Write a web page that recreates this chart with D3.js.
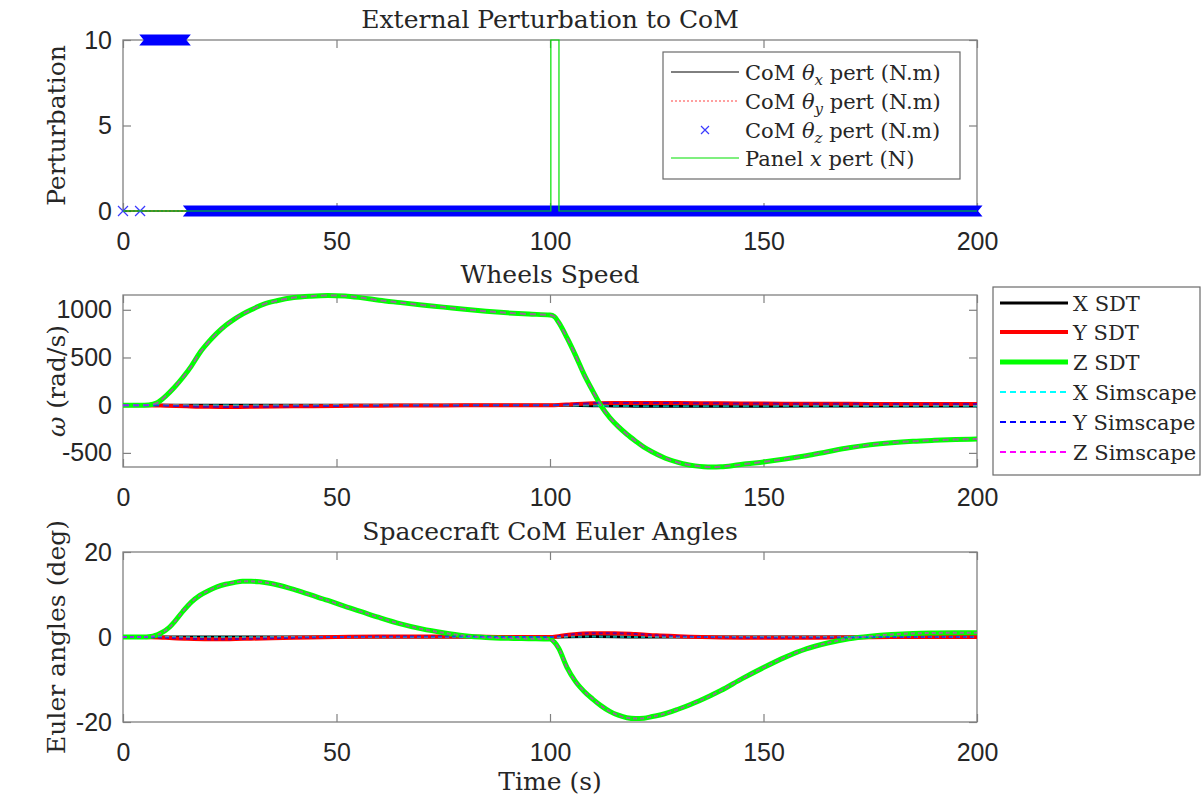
<!DOCTYPE html>
<html>
<head>
<meta charset="utf-8">
<script src="https://cdn.jsdelivr.net/npm/d3@7/dist/d3.min.js"></script>
<style>
  body { margin: 0; background: #fff; }
  svg text { fill: #262626; }
</style>
</head>
<body>
<div id="chart"></div>
<script>
// ---- data ----
const xTicks = [0, 50, 100, 150, 200];

// top panel: external perturbations
const pertXT = [0, 200], pertXV = [0, 0];
const pertYT = [0, 200], pertYV = [0, 0];
const pertZDotT = [0, 4]; // isolated samples at 0
const pertZBandStart = [5.1, 15.3];
const pertZBandEnd = [14.6, 200];
const pertZBandValue = [10, 0];
const panelPertT = [0, 100.2, 100.2, 102.1, 102.1, 200];
const panelPertV = [0, 0, 10, 10, 0, 0];

// middle panel: wheels speed (rad/s)
const wzT = [0, 4, 6, 8, 10, 12, 14, 16, 18, 20, 22, 24, 26, 28, 30, 33, 36, 40, 44, 48, 52, 56, 60, 65, 70, 75, 80, 85, 90, 95, 100, 101, 102, 104, 106, 108, 110, 112, 114, 116, 118, 120, 122, 124, 126, 128, 130, 132, 134, 136, 138, 140, 143, 146, 150, 155, 160, 165, 170, 175, 180, 185, 190, 195, 200];
const wzV = [0, 0, 2, 25, 95, 185, 290, 410, 550, 660, 755, 835, 900, 955, 1000, 1060, 1095, 1128, 1143, 1150, 1145, 1125, 1100, 1075, 1050, 1028, 1005, 985, 968, 955, 945, 930, 870, 705, 520, 320, 150, -10, -130, -225, -305, -375, -440, -490, -535, -572, -600, -622, -636, -645, -648, -645, -632, -615, -595, -565, -530, -488, -447, -415, -393, -378, -368, -360, -355];
const wyT = [0, 5, 10, 15, 20, 25, 30, 40, 50, 60, 70, 80, 90, 100, 102, 105, 110, 115, 120, 130, 140, 150, 160, 170, 180, 190, 200];
const wyV = [0, 0, -5, -12, -17, -18, -17, -12, -8, -5, -3, -2, -1, 0, 2, 10, 20, 24, 24, 22, 19, 17, 15, 14, 13, 12, 12];
const wxT = [0, 100, 105, 110, 115, 120, 130, 150, 170, 200];
const wxV = [0, 0, -2, -5, -8, -10, -11, -10, -9, -8];

// bottom panel: Euler angles (deg)
const ezT = [0, 5, 6, 7, 8, 9, 10, 11, 12, 14, 16, 18, 20, 22, 24, 26, 28, 30, 32, 34, 36, 40, 44, 48, 52, 56, 60, 65, 70, 75, 80, 85, 90, 95, 100, 101, 102, 104, 106, 108, 110, 112, 114, 116, 118, 120, 122, 124, 126, 130, 135, 140, 145, 150, 155, 160, 165, 170, 175, 180, 185, 190, 195, 200];
const ezV = [0, 0, 0.05, 0.2, 0.5, 1.0, 1.6, 2.4, 3.5, 6.0, 8.2, 9.8, 10.9, 11.8, 12.4, 12.8, 13.1, 13.1, 13, 12.7, 12.3, 11.2, 9.9, 8.6, 7.2, 5.9, 4.6, 3.1, 1.9, 1.0, 0.3, -0.1, -0.3, -0.4, -0.5, -1.2, -2.6, -7.2, -10.5, -12.8, -14.6, -16.2, -17.5, -18.4, -19, -19.2, -19.1, -18.7, -18.3, -17, -15, -12.6, -9.8, -7.2, -4.8, -2.8, -1.4, -0.4, 0.2, 0.6, 0.85, 0.95, 1.0, 1.0];
const eyT = [0, 5, 10, 15, 20, 25, 30, 40, 50, 60, 70, 80, 90, 100, 102, 105, 110, 115, 120, 125, 130, 140, 150, 160, 170, 180, 190, 200];
const eyV = [0, 0, -0.2, -0.4, -0.5, -0.5, -0.4, -0.2, 0, 0.1, 0.1, 0.1, 0, 0, 0.2, 0.6, 0.9, 0.9, 0.7, 0.4, 0.2, -0.1, -0.2, -0.2, -0.1, 0, 0, 0];
const exT = [0, 100, 110, 120, 200];
const exV = [0, 0, 0.1, 0, 0];

const wheelLegend = ["X SDT", "Y SDT", "Z SDT", "X Simscape", "Y Simscape", "Z Simscape"];

// ---- drawing ----
const W = 1204, H = 804;
const SERIF = "'DejaVu Serif', 'Liberation Serif', serif";
const SANS = "'Liberation Sans', Arial, sans-serif";
const AX = "#808080";

const svg = d3.select("#chart").append("svg")
  .attr("width", W).attr("height", H);

const x = d3.scaleLinear().domain([0, 200]).range([123, 977]);

function makeAxes(top, bottom, yDomain, yTicks, title, ylab) {
  const y = d3.scaleLinear().domain(yDomain).range([bottom, top]);
  const g = svg.append("g");
  g.append("rect")
    .attr("x", x(0)).attr("y", top)
    .attr("width", x(200) - x(0)).attr("height", bottom - top)
    .attr("fill", "#fff");

  g.append("g").attr("transform", `translate(0,${bottom})`)
    .call(d3.axisBottom(x).tickValues(xTicks).tickSize(-8).tickPadding(21).tickFormat(d => String(d)));
  g.append("g").attr("transform", `translate(0,${top})`)
    .call(d3.axisTop(x).tickValues(xTicks).tickSize(-8).tickFormat(""));
  g.append("g").attr("transform", `translate(${x(0)},0)`)
    .call(d3.axisLeft(y).tickValues(yTicks).tickSize(-8).tickPadding(11).tickFormat(d => String(d)));
  g.append("g").attr("transform", `translate(${x(200)},0)`)
    .call(d3.axisRight(y).tickValues(yTicks).tickSize(-8).tickFormat(""));
  g.selectAll(".domain").remove();
  g.selectAll(".tick line").attr("stroke", AX).attr("stroke-width", 1.2);
  g.selectAll(".tick text").attr("font-family", SANS).attr("font-size", 25).attr("fill", "#262626");

  g.append("rect")
    .attr("x", x(0)).attr("y", top)
    .attr("width", x(200) - x(0)).attr("height", bottom - top)
    .attr("fill", "none").attr("stroke", AX).attr("stroke-width", 1.3);

  svg.append("text")
    .attr("x", (x(0) + x(200)) / 2).attr("y", top - 12)
    .attr("text-anchor", "middle")
    .attr("font-family", SERIF).attr("font-size", 25)
    .text(title);

  const yl = svg.append("text")
    .attr("transform", `translate(65,${(top + bottom) / 2}) rotate(-90)`)
    .attr("text-anchor", "middle")
    .attr("font-family", SERIF).attr("font-size", 25);
  ylab(yl);
  return { y, g };
}

function pts(ts, vs) { return ts.map((t, i) => [t, vs[i]]); }

// ---- top panel ----
const p1 = makeAxes(40, 211, [0, 10], [0, 5, 10], "External Perturbation to CoM",
  t => t.text("Perturbation"));
const line1 = d3.line().x(d => x(d[0])).y(d => p1.y(d[1]));

svg.append("path").attr("d", line1(pts(pertXT, pertXV)))
  .attr("fill", "none").attr("stroke", "#000").attr("stroke-width", 1);
svg.append("path").attr("d", line1(pts(pertYT, pertYV)))
  .attr("fill", "none").attr("stroke", "#ff4040").attr("stroke-width", 1).attr("stroke-dasharray", "2,2");

// dense x-marker runs drawn as a notched band
const hs = 5.5;
pertZBandStart.forEach((t0, i) => {
  const a = x(t0), b = x(pertZBandEnd[i]), yy = p1.y(pertZBandValue[i]);
  svg.append("path")
    .attr("d", `M${a - hs},${yy - hs} L${b + hs},${yy - hs} L${b + 1},${yy} L${b + hs},${yy + hs} L${a - hs},${yy + hs} L${a - 1},${yy} Z`)
    .attr("fill", "#0000ff");
});
function cross(sel, cx, cy, s, col) {
  sel.append("path")
    .attr("d", `M${cx - s},${cy - s}L${cx + s},${cy + s}M${cx - s},${cy + s}L${cx + s},${cy - s}`)
    .attr("stroke", col).attr("stroke-width", 1.2).attr("fill", "none");
}
pertZDotT.forEach(t => cross(svg, x(t), p1.y(0), 5, "#3a3aff"));

svg.append("path").attr("d", line1(pts(panelPertT, panelPertV)))
  .attr("fill", "none").attr("stroke", "#00e000").attr("stroke-width", 1.2);

// top legend
const lg1 = svg.append("g");
lg1.append("rect").attr("x", 663).attr("y", 52).attr("width", 297).attr("height", 127)
  .attr("fill", "#fff").attr("stroke", "#6a6a6a").attr("stroke-width", 1.2);
const rows1 = [72, 101, 130, 158];
lg1.append("line").attr("x1", 671).attr("x2", 739).attr("y1", rows1[0]).attr("y2", rows1[0]).attr("stroke", "#000").attr("stroke-width", 1);
lg1.append("line").attr("x1", 671).attr("x2", 739).attr("y1", rows1[1]).attr("y2", rows1[1]).attr("stroke", "#ff4040").attr("stroke-width", 1).attr("stroke-dasharray", "2,2");
cross(lg1, 705, rows1[2], 4, "#3a3aff");
lg1.append("line").attr("x1", 671).attr("x2", 739).attr("y1", rows1[3]).attr("y2", rows1[3]).attr("stroke", "#00e000").attr("stroke-width", 1.2);
["x", "y", "z"].forEach((s, i) => {
  const t = lg1.append("text").attr("x", 745).attr("y", rows1[i] + 8)
    .attr("font-family", SERIF).attr("font-size", 21);
  t.append("tspan").text("CoM ");
  t.append("tspan").attr("font-style", "italic").text("θ");
  t.append("tspan").attr("font-style", "italic").attr("font-size", 15).attr("dy", 5).text(s);
  t.append("tspan").attr("dy", -5).text(" pert (N.m)");
});
{
  const t = lg1.append("text").attr("x", 745).attr("y", rows1[3] + 8)
    .attr("font-family", SERIF).attr("font-size", 21);
  t.append("tspan").text("Panel ");
  t.append("tspan").attr("font-style", "italic").text("x");
  t.append("tspan").text(" pert (N)");
}

// ---- middle & bottom panels ----
const sdtStyle = [
  { c: "#000000", w: 3 },
  { c: "#ff0000", w: 4 },
  { c: "#00ff00", w: 5 }
];
const simStyle = ["#00ffff", "#0000ff", "#ff00ff"];

function drawSet(p, series, dash) {
  const ln = d3.line().x(d => x(d[0])).y(d => p.y(d[1])).curve(d3.curveMonotoneX);
  series.forEach((s, i) => {
    svg.append("path").attr("d", ln(s)).attr("fill", "none")
      .attr("stroke", sdtStyle[i].c).attr("stroke-width", sdtStyle[i].w)
      .attr("stroke-linejoin", "round");
  });
  series.forEach((s, i) => {
    svg.append("path").attr("d", ln(s)).attr("fill", "none")
      .attr("stroke", simStyle[i]).attr("stroke-width", 2)
      .attr("stroke-opacity", 0.6).attr("stroke-dasharray", dash);
  });
}

const p2 = makeAxes(295, 467, [-648, 1155], [-500, 0, 500, 1000], "Wheels Speed",
  t => { t.append("tspan").attr("font-style", "italic").text("ω"); t.append("tspan").text(" (rad/s)"); });
drawSet(p2, [pts(wxT, wxV), pts(wyT, wyV), pts(wzT, wzV)], "6,4");

const p3 = makeAxes(552, 722, [-20, 20], [-20, 0, 20], "Spacecraft CoM Euler Angles",
  t => t.text("Euler angles (deg)"));
drawSet(p3, [pts(exT, exV), pts(eyT, eyV), pts(ezT, ezV)], "4,3");

svg.append("text").attr("x", (x(0) + x(200)) / 2).attr("y", 790)
  .attr("text-anchor", "middle").attr("font-family", SERIF).attr("font-size", 25)
  .text("Time (s)");

// wheels legend
const lg2 = svg.append("g");
lg2.append("rect").attr("x", 993).attr("y", 287).attr("width", 207).attr("height", 188)
  .attr("fill", "#fff").attr("stroke", "#6a6a6a").attr("stroke-width", 1.2);
const rows2 = [303, 332, 362, 392, 422, 452];
wheelLegend.forEach((name, i) => {
  const l = lg2.append("line").attr("x1", 1000).attr("x2", 1068)
    .attr("y1", rows2[i]).attr("y2", rows2[i]);
  if (i < 3) l.attr("stroke", sdtStyle[i].c).attr("stroke-width", sdtStyle[i].w);
  else l.attr("stroke", simStyle[i - 3]).attr("stroke-width", 2).attr("stroke-dasharray", "6,4");
  lg2.append("text").attr("x", 1073).attr("y", rows2[i] + 8)
    .attr("font-family", SERIF).attr("font-size", 21).text(name);
});
</script>
</body>
</html>
